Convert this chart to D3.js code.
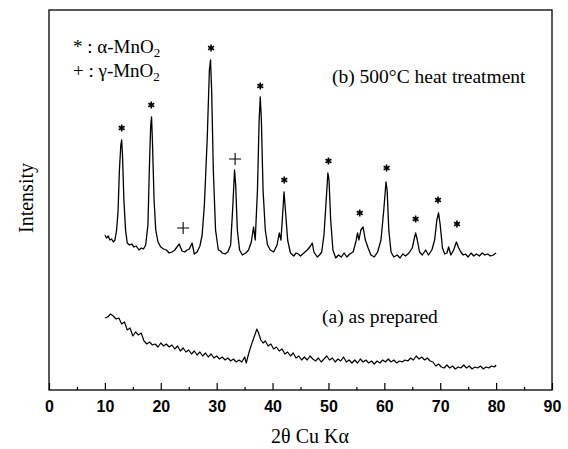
<!DOCTYPE html>
<html><head><meta charset="utf-8">
<script src="https://cdn.jsdelivr.net/npm/d3@7"></script>
<style>body{margin:0;background:#fff} svg{display:block}
.serif{font-family:"Liberation Serif","Times New Roman","DejaVu Serif",serif;}
.sans{font-family:"Liberation Sans",Arial,sans-serif;}
</style>
</head><body><svg id="c" width="568" height="449"></svg>
<script>
const xTickValues = [0,10,20,30,40,50,60,70,80,90];
const xMinorTicks = [5,15,25,35,45,55,65,75,85];
const xTitle = "2θ Cu Kα";
const yTitle = "Intensity";

// (b) 500°C heat treatment : [2θ, intensity]
const seriesB = [
[10.0,155],[10.3,152],[10.6,154],[10.9,150],[11.2,151],[11.5,148],[11.8,150],[12.1,160],[12.35,178],[12.6,220],[12.85,245],[13.0,250],[13.15,235],[13.4,190],[13.7,160],[14.0,147],[14.4,145],[14.8,146],[15.2,143],[15.6,144],[16.1,140],[16.5,142],[16.9,141],[17.3,145],[17.7,165],[18.0,230],[18.2,265],[18.35,273],[18.5,250],[18.8,190],[19.1,160],[19.5,148],[20.0,143],[20.5,141],[21.0,140],[21.5,137],[22.0,138],[22.5,140],[22.9,143],[23.3,146],[23.8,139],[24.3,138],[24.7,140],[25.1,141],[25.6,147],[26.0,136],[26.5,138],[27.0,144],[27.4,155],[27.8,185],[28.3,250],[28.7,320],[28.9,330],[29.1,300],[29.4,220],[29.8,160],[30.3,140],[30.7,139],[31.0,137],[31.5,136],[32.0,138],[32.5,145],[32.9,185],[33.2,220],[33.4,205],[33.7,160],[34.1,140],[34.6,135],[35.2,137],[35.7,140],[36.2,148],[36.6,163],[36.9,150],[37.3,200],[37.6,270],[37.8,293],[38.0,270],[38.3,200],[38.7,160],[39.1,145],[39.6,140],[40.2,138],[40.8,145],[41.2,157],[41.5,150],[41.8,175],[42.05,198],[42.3,180],[42.7,150],[43.2,137],[43.8,134],[44.2,137],[44.6,136],[45.0,134],[45.6,137],[46.2,140],[46.8,144],[47.1,147],[47.4,138],[48.0,133],[48.4,135],[48.8,138],[49.2,155],[49.6,190],[49.9,217],[50.1,210],[50.4,170],[50.8,140],[51.3,132],[51.8,135],[52.3,133],[52.8,137],[53.3,133],[53.8,136],[54.4,138],[54.9,148],[55.2,157],[55.45,150],[55.8,160],[56.2,163],[56.6,150],[57.1,142],[57.6,135],[58.2,133],[58.8,138],[59.4,150],[59.9,180],[60.3,208],[60.5,200],[60.8,160],[61.2,138],[61.7,133],[62.3,135],[62.8,132],[63.3,136],[63.8,134],[64.4,137],[65.0,142],[65.3,150],[65.6,157],[65.9,150],[66.3,138],[66.8,135],[67.4,140],[67.9,135],[68.5,140],[69.0,150],[69.4,170],[69.7,177],[70.0,165],[70.4,142],[70.8,136],[71.2,137],[71.5,143],[71.9,135],[72.4,140],[72.9,148],[73.3,142],[73.7,138],[74.1,135],[74.5,136],[75.0,133],[75.5,137],[76.0,134],[76.5,136],[77.0,134],[77.5,137],[78.0,135],[78.5,136],[79.0,134],[79.5,135],[80.0,137]
];

// (a) as prepared : [2θ, intensity]
const seriesA = [
[10.0,72],[10.5,73],[11.0,76],[11.5,74],[12.0,71],[12.5,72],[13.0,66],[13.5,68],[14.0,60],[14.5,62],[15.0,54],[15.5,58],[16.0,55],[16.5,57],[17.0,49],[17.5,46],[18.0,48],[18.5,45],[19.0,46],[19.5,43],[20.0,47],[20.5,44],[21.0,46],[21.5,43],[22.0,45],[22.5,41],[23.0,44],[23.5,39],[24.0,42],[24.5,38],[25.0,40],[25.5,36],[26.0,39],[26.5,35],[27.0,38],[27.5,34],[28.0,37],[28.5,33],[29.0,36],[29.5,32],[30.0,34],[30.5,31],[31.0,33],[31.5,30],[32.0,32],[32.5,29],[33.0,31],[33.5,28],[34.0,30],[34.5,28],[35.0,33],[35.3,27],[35.7,36],[36.2,45],[36.7,53],[37.2,61],[37.5,57],[37.9,50],[38.3,47],[38.7,49],[39.2,44],[39.7,46],[40.2,41],[40.7,43],[41.2,39],[41.7,41],[42.2,36],[42.7,38],[43.2,34],[43.7,37],[44.2,32],[44.7,34],[45.2,30],[45.7,33],[46.2,30],[46.7,34],[47.2,31],[47.7,29],[48.2,32],[48.7,28],[49.2,31],[49.7,34],[50.2,30],[50.7,32],[51.2,28],[51.7,31],[52.2,29],[52.7,33],[53.2,28],[53.7,30],[54.2,27],[54.7,30],[55.2,27],[55.7,31],[56.2,28],[56.7,30],[57.2,27],[57.7,29],[58.2,26],[58.7,29],[59.2,27],[59.7,30],[60.2,28],[60.7,31],[61.2,28],[61.7,30],[62.2,27],[62.7,29],[63.2,28],[63.7,30],[64.2,29],[64.7,32],[65.2,30],[65.7,34],[66.2,31],[66.7,33],[67.2,30],[67.7,32],[68.2,29],[68.7,28],[69.2,24],[69.7,26],[70.2,23],[70.7,22],[71.2,25],[71.7,22],[72.2,24],[72.7,21],[73.2,23],[73.7,22],[74.2,25],[74.7,22],[75.2,24],[75.7,21],[76.2,23],[76.7,22],[77.2,24],[77.7,21],[78.2,23],[78.7,22],[79.2,24],[79.7,23],[80.0,25]
];

// peak markers [2θ, intensity]
const alphaMarks = [[13.0,262],[18.3,285],[29.0,342],[37.8,304],[42.1,210],[50.0,229],[55.6,177],[60.4,222],[65.6,171],[69.6,190],[73.0,166]];
const gammaMarks = [[24.0,162],[33.3,231]];

const legendLines = [["* : α-MnO","2"],["+ : γ-MnO","2"]];
const labelB = "(b) 500°C heat treatment";
const labelA = "(a) as prepared";

const svg = d3.select("#c");
const L = 49, R = 552, T = 10, B = 390;
const x = d3.scaleLinear().domain([0,90]).range([L,R]);
const y = d3.scaleLinear().domain([0,380]).range([B,T]);

// frame
svg.append("rect").attr("x",L).attr("y",T).attr("width",R-L).attr("height",B-T)
  .attr("fill","none").attr("stroke","#000").attr("stroke-width",1.3);

// bottom axis
const ax = svg.append("g").attr("transform",`translate(0,${B})`)
  .call(d3.axisBottom(x).tickValues(xTickValues).tickSizeInner(-7).tickSizeOuter(0).tickPadding(10.5).tickFormat(d3.format("d")));
ax.select(".domain").remove();
ax.selectAll(".tick line").attr("stroke","#000").attr("stroke-width",1.2);
ax.selectAll(".tick text").attr("class","sans").attr("font-family",null)
  .style("font-weight","bold").style("font-size","16px").attr("fill","#000");
const axm = svg.append("g").attr("transform",`translate(0,${B})`)
  .call(d3.axisBottom(x).tickValues(xMinorTicks).tickSizeInner(-3).tickSizeOuter(0).tickFormat(""));
axm.select(".domain").remove();
axm.selectAll(".tick line").attr("stroke","#000").attr("stroke-width",1.2);

// titles
svg.append("text").attr("class","serif").attr("x",310).attr("y",443).attr("text-anchor","middle")
  .style("font-size","20px").text(xTitle);
svg.append("text").attr("class","serif").attr("transform",`translate(33,198) rotate(-90)`).attr("text-anchor","middle")
  .style("font-size","20px").text(yTitle);

// lines
const line = d3.line().x(d=>x(d[0])).y(d=>y(d[1]));
svg.append("path").datum(seriesB).attr("d",line).attr("fill","none").attr("stroke","#000").attr("stroke-width",1.3).attr("stroke-linejoin","round");
svg.append("path").datum(seriesA).attr("d",line).attr("fill","none").attr("stroke","#000").attr("stroke-width",1.2).attr("stroke-linejoin","round");

// markers
const ast = r => {
  let p = "";
  [90,30,150].forEach(a=>{const t=a*Math.PI/180;p+=`M${-r*Math.cos(t)},${-r*Math.sin(t)}L${r*Math.cos(t)},${r*Math.sin(t)}`;});
  return p;
};
svg.selectAll(".am").data(alphaMarks).join("path").attr("class","am")
  .attr("transform",d=>`translate(${x(d[0])},${y(d[1])})`).attr("d",ast(3.4))
  .attr("stroke","#000").attr("stroke-width",1.6).attr("fill","none");
svg.selectAll(".gm").data(gammaMarks).join("path").attr("class","gm")
  .attr("transform",d=>`translate(${x(d[0])},${y(d[1])})`).attr("d","M-6,0L6,0M0,-6L0,6")
  .attr("stroke","#000").attr("stroke-width",1.1).attr("fill","none");

// legend text
legendLines.forEach((l,i)=>{
  const t = svg.append("text").attr("class","serif").attr("x",73).attr("y",53+i*24).style("font-size","19px");
  t.append("tspan").text(l[0]);
  t.append("tspan").attr("dy",4).style("font-size","13px").text(l[1]);
});
svg.append("text").attr("class","serif").attr("x",332).attr("y",83).style("font-size","19.5px").text(labelB);
svg.append("text").attr("class","serif").attr("x",322).attr("y",323).style("font-size","19.5px").text(labelA);
</script></body></html>
